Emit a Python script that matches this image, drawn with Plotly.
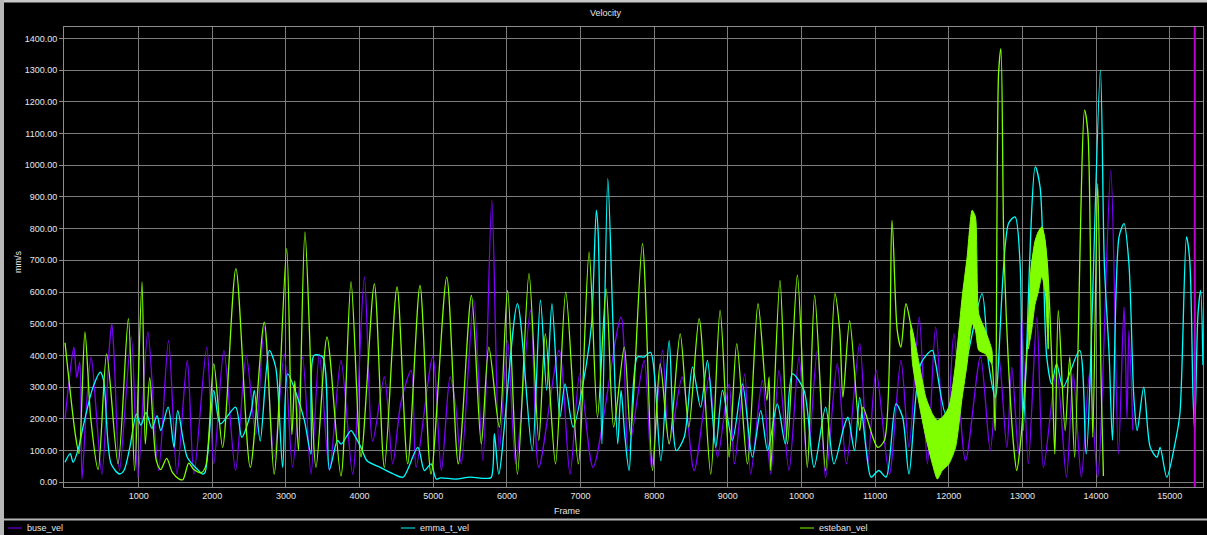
import plotly.graph_objects as go

# ---- series data (frame, velocity in mm/s) ----
buse_frames = [0, 60, 120, 160, 200, 230, 290, 355, 500, 600, 635, 670, 740, 900, 990, 1125, 1270, 1405,
               1520, 1660, 1750, 1925, 2020, 2157, 2315, 2460, 2590, 2705, 2840, 2977, 3090, 3226, 3340,
               3453, 3590, 3747, 3906, 4065, 4178, 4336, 4450, 4560, 4700, 4767, 4993, 5110, 5228, 5300,
               5380, 5550, 5674, 5795, 5897, 6009, 6120, 6320, 6433, 6710, 6857, 6990, 7170, 7550, 7650,
               7864, 7964, 8113, 8203, 8380, 8542, 8746, 8860, 9017, 9090, 9229, 9310, 9469, 9582, 9695,
               9830, 9966, 10079, 10215, 10328, 10486, 10609, 10790, 10900, 11013, 11193, 11350, 11460,
               11598, 11710, 11822, 11957, 12070, 12227, 12430, 12564, 12676, 12789, 12856, 12945, 12990,
               13080, 13196, 13286, 13464, 13598, 13690, 13800, 13911, 14022, 14200, 14303, 14380, 14420,
               14446, 14500]
buse_vel = [200, 330, 426, 330, 380, 10, 237, 395, 26, 420, 500, 380, 37, 458, 15, 474, 37, 447,
            26, 384, 26, 426, 58, 416, 37, 400, 150, 489, 79, 405, 47, 395, 26,
            405, 37, 384, 26, 647, 130, 332, 58, 250, 353, 47, 395, 37, 332, 250,
            58, 574, 68, 890, 100, 447, 58, 542, 47, 416, 26, 342, 47, 521, 100,
            384, 47, 416, 121, 332, 37, 332, 79, 310, 58, 342, 26, 321, 26, 353,
            37, 395, 58, 416, 15, 374, 58, 437, 58, 353, 26, 384, 110,
            521, 58, 489, 47, 468, 68, 395, 100, 405, 110, 363, 90, 521,
            58, 521, 47, 353, 16, 342, 16, 342, 16, 984, 89, 553, 200,
            479, 163]

emma_frames = [0, 70, 110, 180, 250, 380, 480, 525, 625, 740, 800, 880, 970, 1030, 1100, 1180, 1250,
               1300, 1400, 1480, 1530, 1660, 1800, 1865, 1900, 2020, 2110, 2315, 2400, 2530, 2570, 2650,
               2773, 2860, 2955, 3023, 3140, 3250, 3340, 3380, 3498, 3590, 3700, 3750, 3883, 3950, 4019,
               4100, 4280, 4460, 4590, 4790, 4880, 4970, 5040, 5100, 5300, 5500, 5700, 5786, 5830, 5890,
               6143, 6344, 6455, 6540, 6612, 6720, 6790, 6900, 7080, 7150, 7214, 7240, 7290, 7370, 7440,
               7505, 7550, 7600, 7660, 7772, 7864, 7950, 8090, 8203, 8300, 8407, 8520, 8630, 8723, 8836,
               8927, 9062, 9198, 9333, 9447, 9540, 9672, 9780, 9876, 10034, 10170, 10328, 10440, 10576,
               10630, 10720, 10790, 10880, 10946, 11050, 11148, 11283, 11373, 11460, 11620, 11777, 11822,
               11957, 12047, 12227, 12452, 12541, 12631, 12811, 12900, 12968, 13010, 13174, 13240, 13330,
               13397, 13464, 13553, 13777, 13866, 14058, 14112, 14178, 14223, 14312, 14380, 14446, 14513,
               14558, 14647, 14736, 14826, 14870, 14960, 15071, 15138, 15228, 15272, 15317, 15339, 15384,
               15420, 15451]
emma_t_vel = [63, 90, 63, 105, 180, 300, 347, 320, 58, 26, 37, 110, 215, 180, 220, 170, 210,
              163, 237, 110, 226, 79, 40, 26, 30, 290, 184, 237, 142, 226, 290, 130,
              416, 363, 47, 342, 279, 195, 89, 400, 395, 40, 132, 120, 163, 140, 110,
              68, 47, 26, 16, 110, 37, 58, 10, 14, 10, 16, 12, 15, 153, 26,
              563, 100, 574, 290, 563, 205, 310, 174, 374, 500, 858, 784, 121, 958, 500,
              121, 290, 150, 37, 395, 395, 410, 68, 447, 100, 142, 363, 237, 384, 110,
              290, 132, 310, 79, 226, 100, 247, 121, 342, 290, 47, 237, 58, 174,
              205, 100, 268, 100, 16, 37, 16, 247, 205, 26, 374, 416, 374,
              216, 268, 374, 595, 374, 268, 816, 837, 690, 163, 995, 931, 395,
              310, 374, 300, 416, 89, 1300, 690, 400, 132, 774, 816, 690, 268,
              163, 300, 110, 79, 110, 16, 121, 216, 774, 700, 268, 163, 531,
              605, 370]

esteban_frames = [0, 140, 190, 270, 350, 450, 565, 720, 860, 945, 1045, 1090, 1150, 1240, 1300, 1380,
                  1460, 1550, 1600, 1680, 1750, 1850, 1910, 2020, 2140, 2320, 2515, 2705, 2840, 3010,
                  3080, 3120, 3170, 3258, 3408, 3557, 3747, 3883, 4019, 4200, 4336, 4508, 4653, 4820,
                  4970, 5183, 5340, 5518, 5652, 5755, 5897, 6009, 6143, 6300, 6433, 6522, 6660, 6799,
                  6969, 7116, 7230, 7348, 7450, 7594, 7680, 7840, 7977, 8081, 8203, 8353, 8470, 8610,
                  8768, 8895, 9017, 9121, 9266, 9410, 9530, 9560, 9582, 9708, 9810, 9944, 10079, 10179,
                  10328, 10454, 10519, 10563, 10654, 10790, 10834, 10969, 11036, 11126, 11229, 11300,
                  11350, 11418, 11480, 11598, 11688, 11777, 11845, 11912, 12002, 12092, 12182, 12249,
                  12317, 12362, 12407, 12496, 12586, 12630, 12676, 12708, 12744, 12789, 12878, 12923,
                  12968, 13080, 13126, 13215, 13263, 13330, 13400, 13440, 13487, 13580, 13643, 13710,
                  13844, 13890, 13955, 14022, 14070, 14100]
esteban_vel = [440, 150, 90, 474, 200, 40, 405, 58, 516, 37, 632, 120, 330, 68, 40, 75,
               30, 10, 8, 60, 40, 30, 50, 374, 110, 674, 47, 505, 26, 737,
               150, 320, 100, 790, 47, 458, 20, 632, 80, 626, 47, 616, 58, 621,
               26, 647, 58, 589, 121, 426, 174, 605, 26, 658, 132, 468, 58, 600,
               58, 726, 205, 610, 174, 426, 150, 753, 37, 374, 121, 468, 174, 516,
               26, 542, 79, 437, 58, 563, 258, 332, 37, 637, 121, 653, 47, 589,
               37, 595, 479, 268, 510, 163, 237, 142, 110, 132, 826, 479,
               426, 563, 500, 300, 200, 140, 60, 120, 150, 240, 430, 550,
               700, 650, 480, 440, 374, 163, 1289, 1368, 795, 479, 121, 37,
               110, 479, 690, 774, 805, 710, 374, 89, 542, 163, 395, 79,
               1174, 1100, 142, 942, 300, 20]

# rapid-oscillation envelopes of esteban_vel (upper / lower bounds)
esteban_band1_frames = [11480, 11508, 11598, 11688, 11777, 11845, 11912, 12002, 12092, 12182, 12249,
                        12317, 12362, 12407, 12496, 12586]
esteban_band1_upper = [500, 479, 374, 268, 216, 195, 205, 237, 374, 584, 710, 858, 837, 531, 479, 416]
esteban_band1_lower = [480, 374, 247, 142, 58, 10, 37, 58, 110, 268, 374, 500, 479, 416, 405, 374]

esteban_band2_frames = [13080, 13126, 13170, 13215, 13263, 13310, 13350]
esteban_band2_upper = [480, 690, 760, 790, 805, 760, 600]
esteban_band2_lower = [420, 480, 560, 600, 650, 600, 420]

series_names = ["buse_vel", "emma_t_vel", "esteban_vel"]
series_colors = ["#7f00ff", "#00ffff", "#7fff00"]

cursor_frame = 15340

x_ticks = [1000, 2000, 3000, 4000, 5000, 6000, 7000, 8000, 9000, 10000, 11000, 12000, 13000, 14000, 15000]
x_tick_labels = [str(v) for v in x_ticks]
y_ticks = [0, 100, 200, 300, 400, 500, 600, 700, 800, 900, 1000, 1100, 1200, 1300, 1400]
y_tick_labels = [f"{v:.2f}" for v in y_ticks]

# ---- figure ----
W, H = 1207, 535
ML, MR, MT, MB = 64, 4, 27, 48
PW, PH = W - ML - MR, H - MT - MB


def px_x(px):
    return (px - ML) / PW


def px_y(py):
    return 1 - (py - MT) / PH


FONT = "Liberation Sans, Arial, sans-serif"
TEXT = "#e6e6e6"
GRID = "#7c7c7c"

fig = go.Figure()

# filled envelopes for the fast-oscillating parts of esteban_vel
band_x = (esteban_band1_frames + esteban_band1_frames[::-1] + [None]
          + esteban_band2_frames + esteban_band2_frames[::-1])
band_y = (esteban_band1_upper + esteban_band1_lower[::-1] + [None]
          + esteban_band2_upper + esteban_band2_lower[::-1])

all_series = [
    (buse_frames, buse_vel),
    (emma_frames, emma_t_vel),
    (esteban_frames, esteban_vel),
]

for (fr, vals), name, color in zip(all_series, series_names, series_colors):
    fig.add_trace(go.Scatter(x=fr, y=vals, mode="lines", name=name,
                             line=dict(color=color, width=1.3, shape="spline", smoothing=0.8),
                             showlegend=False))
    if name == "esteban_vel":
        fig.add_trace(go.Scatter(x=band_x, y=band_y, mode="lines", fill="toself",
                                 fillcolor=color, line=dict(color=color, width=1, shape="spline", smoothing=0.6),
                                 showlegend=False, hoverinfo="skip"))

shapes = [
    # playback cursor
    dict(type="line", xref="x", yref="paper", x0=cursor_frame, x1=cursor_frame, y0=0, y1=1,
         line=dict(color="#c000d0", width=2)),
    # window frame strips
    dict(type="rect", xref="paper", yref="paper", x0=px_x(-5), x1=px_x(W + 5), y0=px_y(2.5), y1=px_y(-5),
         fillcolor="#c8c8c8", line=dict(width=0), layer="above"),
    dict(type="rect", xref="paper", yref="paper", x0=px_x(-5), x1=px_x(4), y0=px_y(H + 5), y1=px_y(-5),
         fillcolor="#b8b8b8", line=dict(width=0), layer="above"),
    # separator above legend row
    dict(type="line", xref="paper", yref="paper", x0=px_x(4), x1=px_x(W + 5), y0=px_y(519.5), y1=px_y(519.5),
         line=dict(color="#b4b4b4", width=2)),
]

annotations = [
    dict(text="Velocity", xref="paper", yref="paper", x=px_x(606), y=px_y(13), showarrow=False,
         font=dict(family=FONT, size=9, color=TEXT), xanchor="center", yanchor="middle"),
    dict(text="Frame", xref="paper", yref="paper", x=px_x(567), y=px_y(511), showarrow=False,
         font=dict(family=FONT, size=9, color=TEXT), xanchor="center", yanchor="middle"),
    dict(text="mm/s", xref="paper", yref="paper", x=px_x(18), y=px_y(262), showarrow=False,
         textangle=-90, font=dict(family=FONT, size=9, color=TEXT), xanchor="center", yanchor="middle"),
]

# legend row
legend_x = [8, 401, 800]
for name, color, lx in zip(series_names, series_colors, legend_x):
    shapes.append(dict(type="line", xref="paper", yref="paper", x0=px_x(lx), x1=px_x(lx + 14),
                       y0=px_y(528), y1=px_y(528), line=dict(color=color, width=1)))
    annotations.append(dict(text=name, xref="paper", yref="paper", x=px_x(lx + 17), y=px_y(528),
                            showarrow=False, xanchor="left", yanchor="middle",
                            font=dict(family=FONT, size=9, color=TEXT)))

fig.update_layout(
    width=W, height=H,
    margin=dict(l=ML, r=MR, t=MT, b=MB, pad=0),
    paper_bgcolor="#000000", plot_bgcolor="#000000",
    showlegend=False,
    shapes=shapes, annotations=annotations,
    xaxis=dict(range=[-14, 15452], tickvals=x_ticks, ticktext=x_tick_labels,
               showgrid=True, gridcolor=GRID, gridwidth=1, zeroline=False,
               showline=True, linecolor="#8c8c8c", linewidth=1, mirror=True,
               ticks="", tickfont=dict(family=FONT, size=9, color=TEXT)),
    yaxis=dict(range=[-15, 1436], tickvals=y_ticks, ticktext=y_tick_labels,
               showgrid=True, gridcolor=GRID, gridwidth=1, zeroline=False,
               showline=True, linecolor="#8c8c8c", linewidth=1, mirror=True,
               ticks="outside", ticklen=4, tickcolor="#8c8c8c",
               tickfont=dict(family=FONT, size=9, color=TEXT)),
)

fig.write_html("out.html")
